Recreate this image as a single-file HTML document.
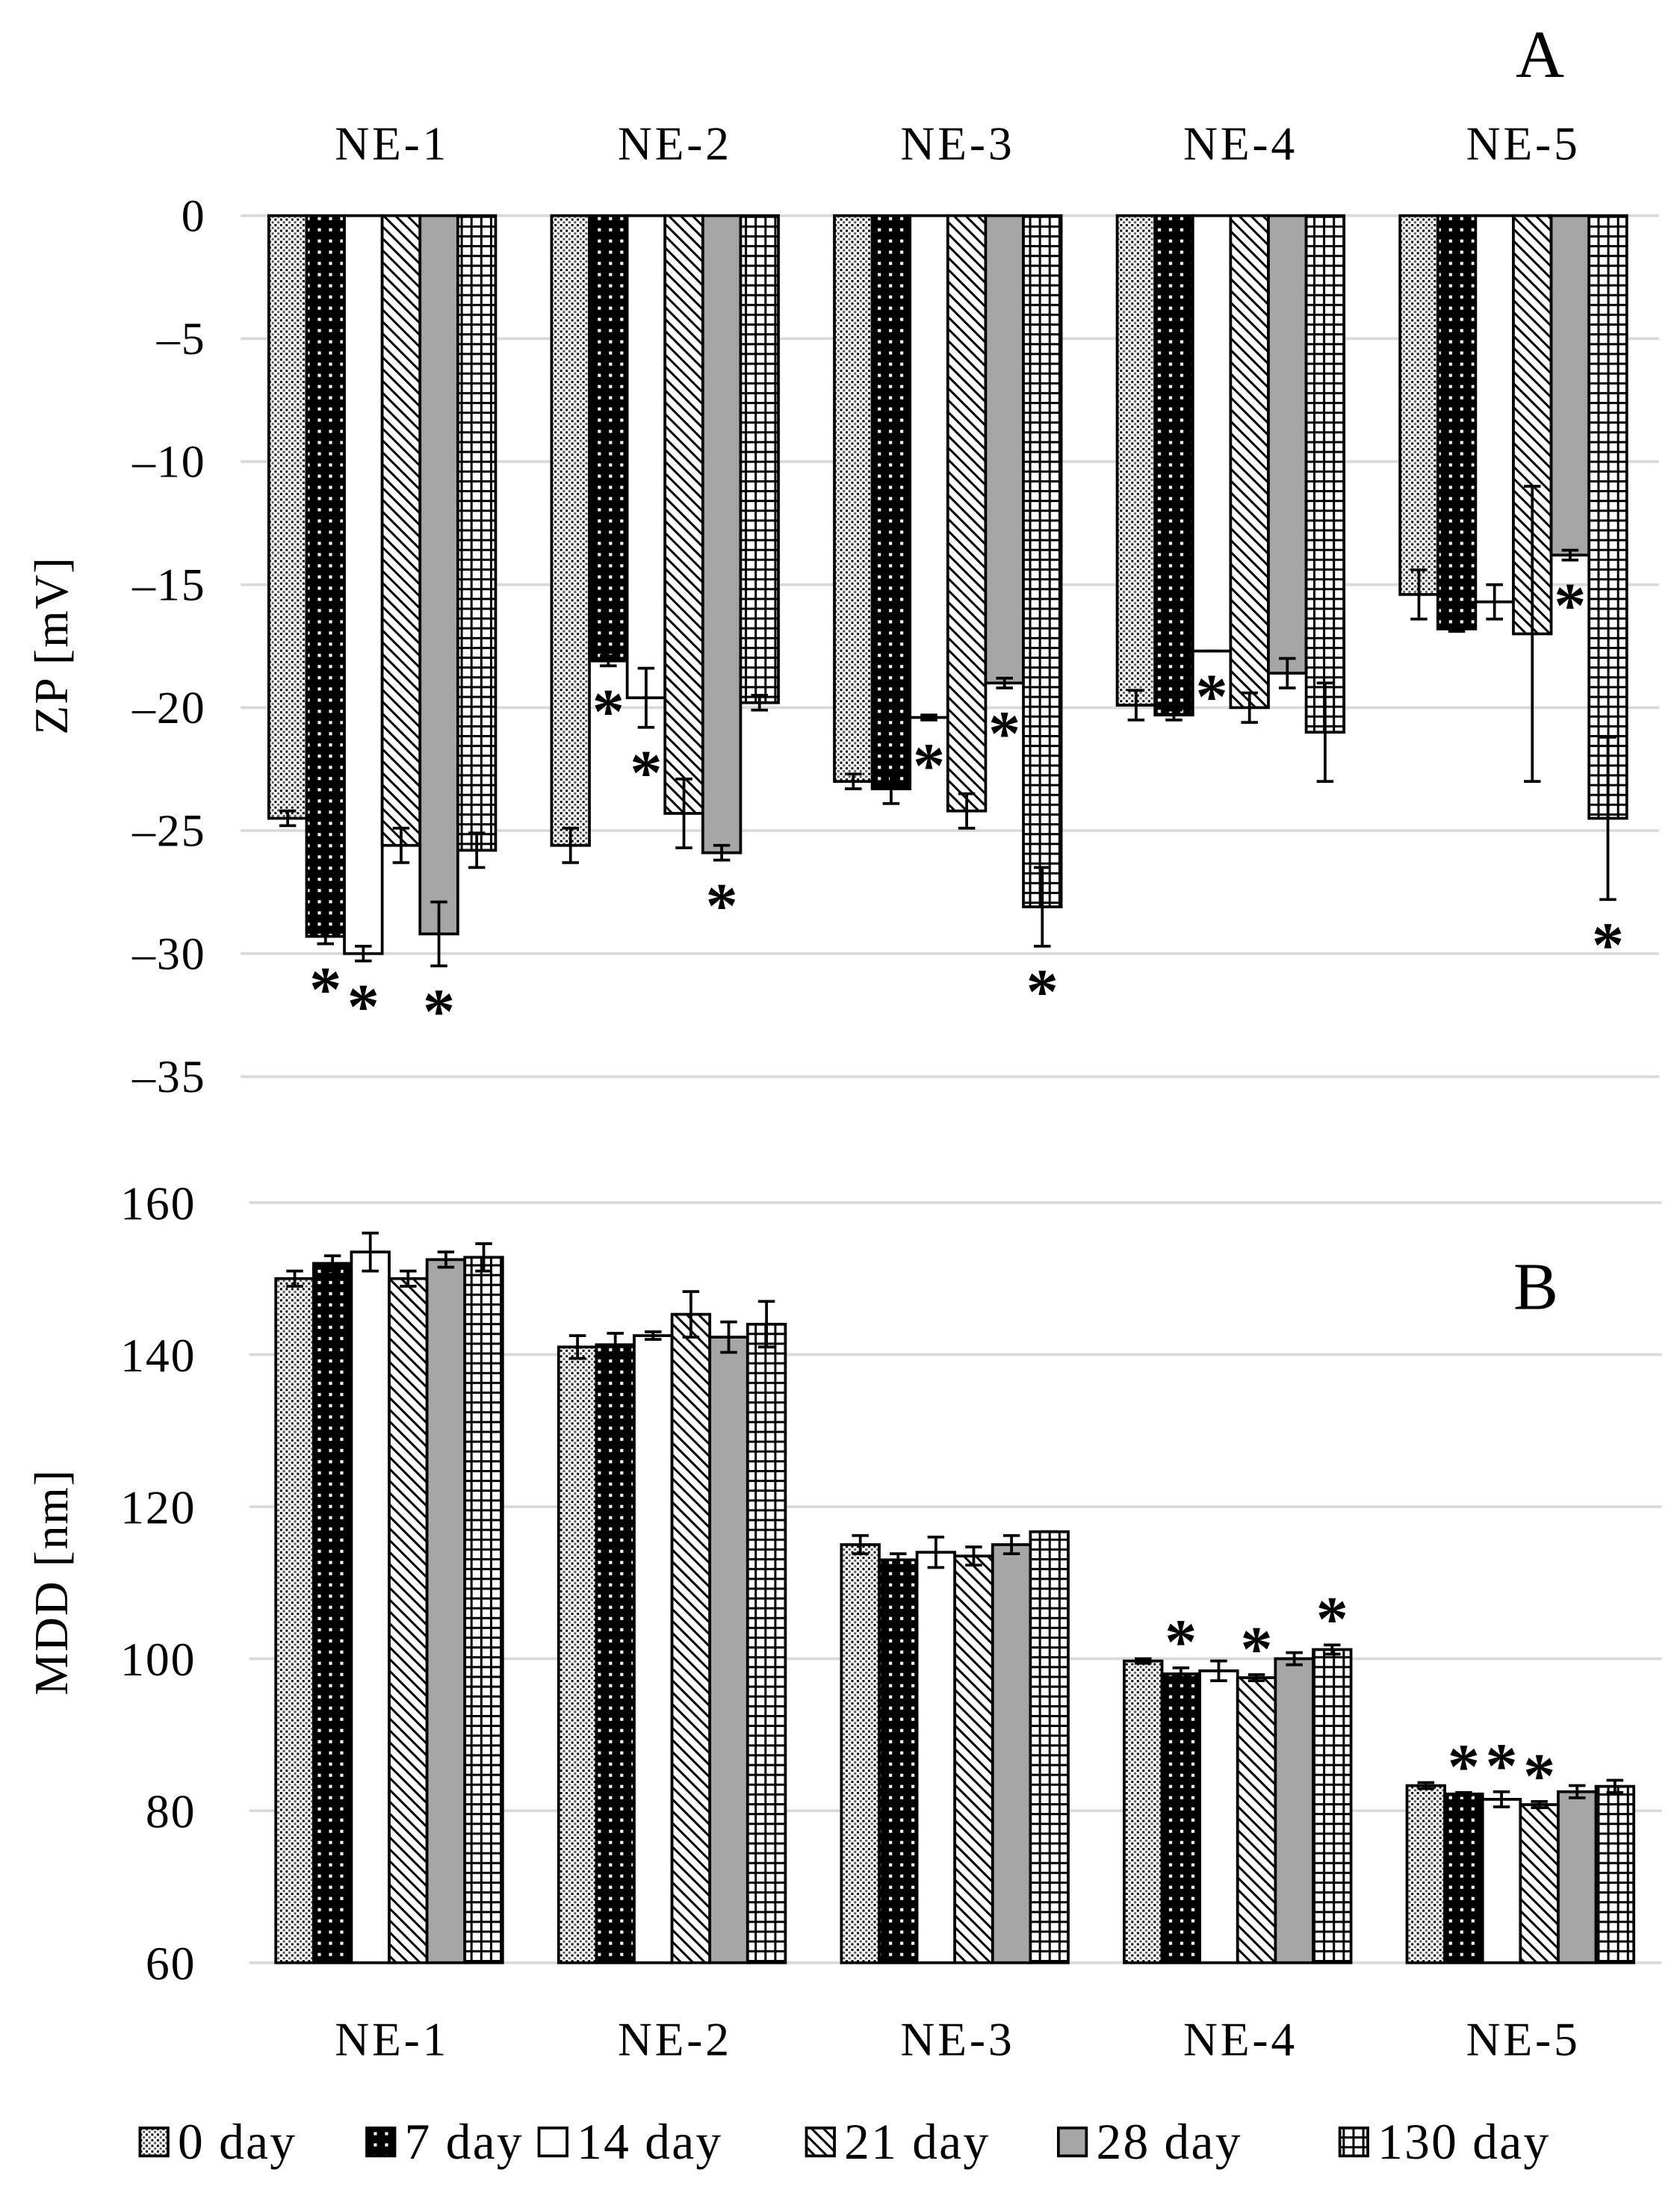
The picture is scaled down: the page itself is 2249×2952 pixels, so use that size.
<!DOCTYPE html>
<html><head><meta charset="utf-8">
<style>
html,body{margin:0;padding:0;background:#fff;}
svg{display:block;font-family:"Liberation Serif",serif;}
</style></head>
<body>
<svg id="chart" width="2249" height="2952" viewBox="0 0 1200 1575" xmlns="http://www.w3.org/2000/svg">
<defs>
<pattern id="p0" width="4" height="4" patternUnits="userSpaceOnUse"><rect width="4" height="4" fill="#fff"/><rect x="0" y="0" width="1.6" height="1.6" fill="#000"/><rect x="2" y="2" width="1.6" height="1.6" fill="#555"/></pattern>
<pattern id="p1" width="8" height="8" patternUnits="userSpaceOnUse"><rect width="8" height="8" fill="#000"/><rect x="3" y="3" width="2.2" height="2.2" fill="#fff"/></pattern>
<pattern id="p3" width="6" height="6" patternUnits="userSpaceOnUse" patternTransform="rotate(-45)"><rect width="6" height="6" fill="#fff"/><rect x="0" y="0" width="1.6" height="6" fill="#000"/></pattern>
<pattern id="p5" width="7" height="7" patternUnits="userSpaceOnUse"><rect width="7" height="7" fill="#fff"/><rect x="0" y="0" width="7" height="1.6" fill="#000"/><rect x="0" y="0" width="1.6" height="7" fill="#000"/></pattern>
</defs>
<text x="1100" y="55" font-size="48" text-anchor="middle">A</text>
<text x="1097" y="935" font-size="48" text-anchor="middle">B</text>
<text transform="translate(48,461) rotate(-90)" font-size="34" text-anchor="middle" letter-spacing="1">ZP [mV]</text>
<text transform="translate(48,1130) rotate(-90)" font-size="34" text-anchor="middle" letter-spacing="1">MDD [nm]</text>
<g id="ga"></g><g id="gb"></g><g id="leg"></g>
</svg>
<script>
const categories = ["NE-1","NE-2","NE-3","NE-4","NE-5"];
const seriesNames = ["0 day","7 day","14 day","21 day","28 day","130 day"];
const zpValues = [
 [-24.5,-29.3,-30.0,-25.6,-29.2,-25.8],
 [-25.6,-18.1,-19.6,-24.3,-25.9,-19.8],
 [-23.0,-23.3,-20.4,-24.2,-19.0,-28.1],
 [-19.9,-20.3,-17.7,-20.0,-18.6,-21.0],
 [-15.4,-16.8,-15.7,-17.0,-13.8,-24.5]];
const zpErrors = [
 [0.3,0.3,0.3,0.7,1.3,0.7],
 [0.7,0.2,1.2,1.4,0.3,0.3],
 [0.3,0.6,0.1,0.7,0.2,1.6],
 [0.6,0.2,0,0.6,0.6,2.0],
 [1.0,0.1,0.7,6.0,0.2,3.3]];
const zpStars = [[0,1,1,0,1,0],[0,1,1,0,1,0],[0,0,1,0,1,1],[0,0,1,0,0,0],[0,0,0,0,1,1]];
const zpTicks = [0,-5,-10,-15,-20,-25,-30,-35];
const mddValues = [
 [150,152,153.5,150,152.5,152.8],
 [141,141.3,142.5,145.3,142.3,144],
 [115,113,114,113.5,115,116.7],
 [99.7,98,98.4,97.5,100,101.2],
 [83.3,82.2,81.5,80.8,82.5,83.2]];
const mddErrors = [
 [1,1,2.5,1,1,1.8],
 [1.5,1.5,0.5,3,2,3],
 [1.2,0.8,2,1.2,1.2,0],
 [0.3,0.8,1.3,0.4,0.8,0.6],
 [0.4,0.2,1,0.4,0.8,0.8]];
const mddStars = [[0,0,0,0,0,0],[0,0,0,0,0,0],[0,0,0,0,0,0],[0,1,0,1,0,1],[0,1,1,1,0,0]];
const mddTicks = [60,80,100,120,140,160];

const NS="http://www.w3.org/2000/svg";
const fills=["url(#p0)","url(#p1)","#fff","url(#p3)","#a6a6a6","url(#p5)"];
function mk(p,tag,at){const e=document.createElementNS(NS,tag);for(const k in at)e.setAttribute(k,at[k]);p.appendChild(e);return e;}
const BW=27;
function catX(i,x0){return x0+202*i;}

// Panel A
const ga=document.getElementById('ga');
const yA=v=>154+(-v)*(615/35);
zpTicks.forEach(t=>{
 const l=mk(ga,'line',{x1:172,x2:1185,y1:yA(t),y2:yA(t),stroke:'#d9d9d9','stroke-width':2});
 
 
 const tx=mk(ga,'text',{x:147,y:yA(t)+11,'font-size':33,'text-anchor':'end','letter-spacing':1});
 tx.textContent=t===0?'0':'\u2013'+(-t);
 
 
});
categories.forEach((c,i)=>{
 const cx=catX(i,273);
 const tx=mk(ga,'text',{x:cx+7,y:114,'font-size':34,'text-anchor':'middle','letter-spacing':2});
 tx.textContent=c;
 
 
 zpValues[i].forEach((v,j)=>{
  const x=cx-81+j*BW;
  const r=mk(ga,'rect',{x:x,y:yA(0),width:BW,height:yA(v)-yA(0),fill:fills[j],stroke:'#000','stroke-width':2});
  
  
  const e=zpErrors[i][j],m=x+BW/2;
  const g=mk(ga,'path',{d:`M${m},${yA(v-e)}V${yA(v+e)}M${m-6},${yA(v-e)}h12M${m-6},${yA(v+e)}h12`,stroke:'#000','stroke-width':2,fill:'none'});
  
  
  if(zpStars[i][j]){
   const s=mk(ga,'text',{x:m,y:yA(v-e)+48,'font-size':46,'font-weight':'bold','text-anchor':'middle'});
   s.textContent='*';
   
   
  }
 });
});

// Panel B
const gb=document.getElementById('gb');
const yB=v=>1402-(v-60)*(543/100);
mddTicks.forEach(t=>{
 const l=mk(gb,'line',{x1:178,x2:1187,y1:yB(t),y2:yB(t),stroke:'#d9d9d9','stroke-width':2});
 
 
 const tx=mk(gb,'text',{x:140,y:yB(t)+12,'font-size':34,'text-anchor':'end','letter-spacing':1});
 tx.textContent=t;
 
 
});
categories.forEach((c,i)=>{
 const cx=catX(i,278);
 const tx=mk(gb,'text',{x:cx+2,y:1468,'font-size':34,'text-anchor':'middle','letter-spacing':2});
 tx.textContent=c;
 
 
 mddValues[i].forEach((v,j)=>{
  const x=cx-81+j*BW;
  const r=mk(gb,'rect',{x:x,y:yB(v),width:BW,height:yB(60)-yB(v),fill:fills[j],stroke:'#000','stroke-width':2});
  
  
  const e=mddErrors[i][j],m=x+BW/2;
  const g=mk(gb,'path',{d:`M${m},${yB(v-e)}V${yB(v+e)}M${m-6},${yB(v-e)}h12M${m-6},${yB(v+e)}h12`,stroke:'#000','stroke-width':2,fill:'none'});
  
  
  if(mddStars[i][j]){
   const s=mk(gb,'text',{x:m,y:yB(v+e)-3,'font-size':46,'font-weight':'bold','text-anchor':'middle'});
   s.textContent='*';
   
   
  }
 });
});

// Legend
const leg=document.getElementById('leg');
const legX=[100,262,385,576,756,957];
seriesNames.forEach((n,j)=>{
 const r=mk(leg,'rect',{x:legX[j],y:1520,width:20,height:20,fill:fills[j],stroke:'#000','stroke-width':2});
 
 
 const t=mk(leg,'text',{x:legX[j]+27,y:1542,'font-size':36,'letter-spacing':1.2});
 t.textContent=n;
 
 
});
</script>
</body></html>
